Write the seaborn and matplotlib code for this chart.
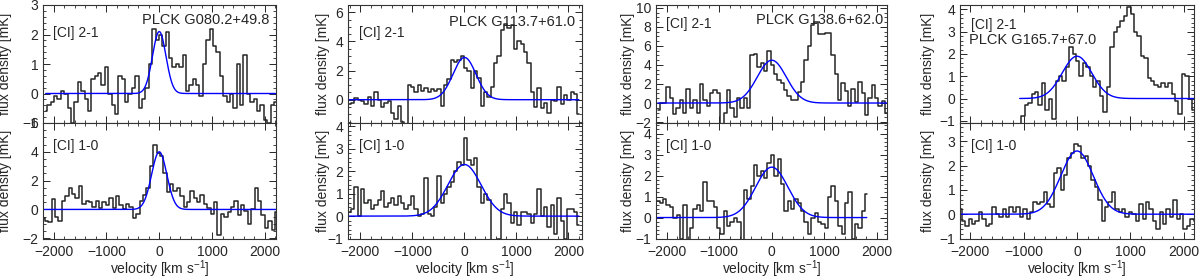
import numpy as np
import pandas as pd
import matplotlib
matplotlib.use("Agg")
import matplotlib.pyplot as plt
from matplotlib.ticker import MultipleLocator, AutoMinorLocator
import seaborn as sns

# =========================================
# DATA
# =========================================

sources = ["PLCK G080.2+49.8", "PLCK G113.7+61.0", "PLCK G138.6+62.0", "PLCK G165.7+67.0"]
channel_width = 64  # km/s

# [CI] 2-1 spectra (mK), first channel velocity in km/s
ci21_start = [-2150, -2215, -2165, -1075]
ci21_flux = [
    [-0.6, -0.4, -0.3, -0.1, -0.2, 0.1, 0.0, -0.5, -1.0, -0.3,
     0.4, 0.1, -0.2, -0.6, 0.5, 0.6, 0.7, 0.3, 0.9, 0.0,
     -0.4, -0.7, 0.6, 0.5, -0.3, 0.0, 0.2, 0.6, -0.5, -0.2,
     0.2, 1.0, 2.2, 1.8, 2.0, 1.6, 2.1, 1.2, 0.9, 1.0,
     0.9, 1.3, 0.1, 0.3, 0.5, 0.3, -0.1, 1.0, 1.8, 2.2,
     1.6, 1.4, 0.6, -0.1, -0.3, 0.0, -0.5, 1.0, -0.4, 1.3,
     0.0, -0.3, -0.2, -0.6, -0.4, -0.9, -1.0, -0.4, -0.3],
    [-0.3, -0.2, 0.1, 0.0, -0.1, -0.3, 0.2, -0.4, 0.5, 0.0,
     -0.5, -0.2, -0.1, -0.9, -1.3, -0.4, -1.5, -2.5, 1.0, 0.9,
     0.5, 1.0, 0.6, 0.8, 0.5, 0.7, 0.6, 0.7, -0.4, 1.0,
     1.4, 2.7, 2.6, 2.7, 3.0, 2.2, 2.0, 0.8, 2.0, 1.5,
     -0.4, 0.5, 0.2, 0.9, 2.5, 3.0, 4.8, 5.2, 4.9, 5.1,
     3.5, 4.0, 3.8, 3.3, 2.5, 0.5, -0.5, 0.8, -0.6, -0.2,
     -0.9, 0.0, -0.1, 0.9, -0.3, 0.3, 0.0, 0.5, 0.4, -1.0],
    [-0.7, 0.0, 0.0, 1.7, 0.5, -1.2, -0.5, 0.3, -1.0, 1.5,
     -0.5, 0.3, -1.0, 2.0, 0.3, -0.3, 1.0, 1.4, 1.0, -2.5,
     -1.0, 1.4, -0.5, -1.5, 0.5, -0.5, 0.5, -0.5, 5.0, 5.1,
     3.8, 4.2, 3.4, 5.5, 4.0, 3.0, 2.4, 2.1, 1.4, 0.7,
     0.3, 0.3, 1.2, 2.2, 4.5, 6.0, 8.2, 8.5, 7.2, 7.3,
     7.4, 7.4, 5.0, 3.0, 0.3, 2.1, 1.3, -0.3, 1.5, 0.1,
     2.2, 1.0, -1.3, 0.5, 1.9, 0.5, -0.3, 0.2, -1.0],
    [-1.2, -0.8, -0.3, -0.2, 0.2, 0.3, -0.3, 0.7, -0.5, 0.0,
     -0.9, 0.8, 1.0, 0.8, 1.4, 2.3, 2.0, 1.7, 1.0, 1.6,
     1.4, 1.0, 0.5, 0.8, 0.1, -0.6, 0.5, 2.3, 3.0, 3.2,
     3.5, 3.7, 4.1, 3.8, 3.0, 2.8, 1.9, 1.8, 0.9, 0.8,
     0.6, 0.5, 0.7, 0.5, 0.7, 0.2, -0.1, -0.7, 1.1, 1.0,
     0.0, -0.5, -0.5],
]

# [CI] 1-0 spectra (mK)
ci10_start = [-2195, -2215, -2290, -2195]
ci10_flux = [
    [-0.6, -0.8, -0.9, 0.7, -0.5, -0.8, 0.6, 0.9, 1.5, 1.1,
     0.8, 1.6, 0.4, 0.6, 0.5, 0.2, 0.6, 0.1, 0.5, 0.3,
     0.8, 0.1, 0.9, 0.3, 0.0, 0.4, 0.2, -0.6, -0.3, 0.6,
     1.0, 1.5, 3.0, 4.5, 3.9, 3.7, 2.5, 1.2, 1.8, 1.3,
     1.5, 0.9, 0.2, 0.5, 1.3, 0.8, 0.5, 1.0, 0.4, 0.1,
     -0.3, 0.5, -1.8, -0.3, -0.5, -0.2, 0.2, 0.6, -0.4, 0.3,
     -0.1, -1.0, 0.0, 1.5, 0.6, -0.4, -1.3, -0.8, -1.4, -0.2],
    [0.2, 0.3, 1.3, 0.0, 1.2, 0.6, 0.7, 0.3, 0.5, 0.7,
     1.1, 0.4, 0.6, 0.8, 0.5, 0.9, 0.6, 0.3, 0.5, 0.9,
     0.3, 0.0, 0.1, 1.7, 0.1, 0.0, 0.4, 1.8, 0.6, 1.0,
     1.3, 1.5, 2.0, 2.4, 2.3, 3.5, 2.5, 2.3, 2.6, 1.3,
     0.6, 1.0, 0.7, -1.5, -1.3, -1.0, 0.3, 1.0, 0.6, -0.3,
     0.2, -0.4, 0.2, 0.2, 0.1, -0.3, 0.1, 1.2, 0.0, 0.4,
     -0.5, 0.5, -0.8, 0.8, -0.2, -1.0, 0.3, 0.3, 0.2, -0.4],
    [-0.1, 0.0, 0.8, 0.7, 0.9, 0.6, 0.5, 0.0, 0.1, -1.0,
     0.6, -1.2, -0.5, 0.4, 0.6, 0.3, 1.7, 0.8, 0.8, 0.5,
     -0.5, -0.8, 0.3, -0.4, -0.2, 0.0, -0.2, -1.1, 1.3, 0.9,
     1.5, 2.5, 2.0, 2.2, 1.9, 2.6, 3.0, 2.0, 2.8, 1.6,
     0.3, 0.8, 0.4, 0.9, 0.7, 0.3, -0.2, -0.8, 0.0, 0.2,
     -0.2, -0.3, -0.5, 1.0, 1.5, 0.8, -0.4, -0.8, 0.7, 1.2,
     -1.0, -0.3, -0.5, 0.3, 1.1],
    [0.2, -0.3, -0.5, -0.2, -0.4, -0.3, 0.1, -0.2, -0.5, -0.4,
     0.3, 0.0, -0.1, 0.2, -0.1, 0.3, 0.1, 0.3, -0.1, 0.2,
     -0.2, 0.1, 0.5, 0.4, 0.5, 0.9, 0.4, 0.3, 1.7, 1.9,
     1.0, 1.6, 2.3, 2.5, 2.9, 2.8, 2.3, 2.4, 2.0, 1.4,
     1.1, 0.6, -0.3, 0.3, 0.5, 0.9, 0.2, 0.1, 0.2, -0.1,
     0.1, 0.0, -0.3, 0.4, -0.2, 0.5, 0.2, -0.3, -0.6, 0.1,
     -0.4, 0.2, -0.1, 0.6, -0.2, 0.0, -0.6, -0.5, -0.2, -0.3],
]

# Gaussian fits: peak (mK) and FWHM (km/s), centred at 0
ci21_peak = [2.1, 2.9, 4.5, 1.9]
ci21_fwhm = [300, 520, 650, 650]
ci10_peak = [4.0, 2.3, 2.4, 2.6]
ci10_fwhm = [340, 750, 720, 720]

# axis ranges
xlims = [(-2200, 2210), (-2240, 2260), (-2200, 2190), (-2195, 2195)]
ci21_ylim = [(-1, 3), (-1.6, 6.5), (-2.1, 10.3), (-1.1, 4.2)]
ci21_ystep = [1, 2, 2, 1]
ci10_ylim = [(-2.05, 6), (-1.02, 4.15), (-1.02, 4.5), (-1.02, 3.75)]
ci10_ystep = [2, 1, 1, 1]

# =========================================
# STYLE
# =========================================

sns.set_theme(style="ticks")
plt.rcParams["font.family"] = ["Liberation Sans", "DejaVu Sans"]
plt.rcParams["mathtext.default"] = "regular"
plt.rcParams["axes.linewidth"] = 0.8

fig = plt.figure(figsize=(12, 2.8), dpi=100)

lefts = [43, 348, 656, 960]
widths = [233, 234, 231, 234]
ylabel_gap = [31, 18, 21, 25]
W, H = 1200, 280
y_bot, y_mid, y_top = 239, 123, 5


def draw_spectrum(ax, v_start, flux, peak, fwhm):
    v = v_start + channel_width * np.arange(len(flux))
    df = pd.DataFrame({"v": v, "flux": flux})
    sns.lineplot(data=df, x="v", y="flux", ax=ax, color="0.15", lw=1.1,
                 drawstyle="steps-mid", estimator=None)
    sigma = fwhm / 2.3548
    vfit = np.linspace(v[0], v[-1], 500)
    fit = pd.DataFrame({"v": vfit, "flux": peak * np.exp(-0.5 * (vfit / sigma) ** 2)})
    sns.lineplot(data=fit, x="v", y="flux", ax=ax, color="#0000ff", lw=1.0,
                 estimator=None)


def style_axis(ax, xlim, ylim, ystep, gap, width, show_x):
    ax.set_xlim(xlim)
    ax.set_ylim(ylim)
    ax.xaxis.set_major_locator(MultipleLocator(1000))
    ax.xaxis.set_minor_locator(MultipleLocator(200))
    ax.yaxis.set_major_locator(MultipleLocator(ystep))
    ax.yaxis.set_minor_locator(AutoMinorLocator(5 if ystep == 1 else 4))
    ax.tick_params(which="both", direction="in", top=True, right=True,
                   labelsize=10, colors="0.15")
    ax.tick_params(which="major", length=5, width=0.7)
    ax.tick_params(which="minor", length=2.5, width=0.6)
    ax.tick_params(axis="x", pad=4)
    ax.set_ylabel("flux density [mK]", fontsize=10)
    ax.yaxis.set_label_coords(-gap / width, 0.5)
    if show_x:
        ax.set_xlabel(r"velocity [km s$^{-1}$]", fontsize=10, labelpad=0)
    else:
        ax.set_xlabel("")
        ax.tick_params(axis="x", labelbottom=False)
    for s in ax.spines.values():
        s.set_color("0.2")


name_pos = [(0.97, 0.87, "right"), (0.97, 0.86, "right"), (0.985, 0.87, "right"), (0.04, 0.70, "left")]
tag21_y = [0.76, 0.76, 0.84, 0.83]

for i in range(4):
    x0 = lefts[i] / W
    w = widths[i] / W
    ax_top = fig.add_axes([x0, 1 - y_mid / H, w, (y_mid - y_top) / H])
    ax_bot = fig.add_axes([x0, 1 - y_bot / H, w, (y_bot - y_mid) / H])

    draw_spectrum(ax_top, ci21_start[i], ci21_flux[i], ci21_peak[i], ci21_fwhm[i])
    draw_spectrum(ax_bot, ci10_start[i], ci10_flux[i], ci10_peak[i], ci10_fwhm[i])

    style_axis(ax_top, xlims[i], ci21_ylim[i], ci21_ystep[i], ylabel_gap[i], widths[i], False)
    style_axis(ax_bot, xlims[i], ci10_ylim[i], ci10_ystep[i], ylabel_gap[i], widths[i], True)

    ax_top.text(0.045, tag21_y[i], "[CI] 2-1", transform=ax_top.transAxes,
                fontsize=10, va="center", ha="left")
    nx, ny, ha = name_pos[i]
    ax_top.text(nx, ny, sources[i], transform=ax_top.transAxes,
                fontsize=10.5, va="center", ha=ha)
    ax_bot.text(0.045, 0.80, "[CI] 1-0", transform=ax_bot.transAxes,
                fontsize=10, va="center", ha="left")

fig.savefig("out.png", dpi=100)
